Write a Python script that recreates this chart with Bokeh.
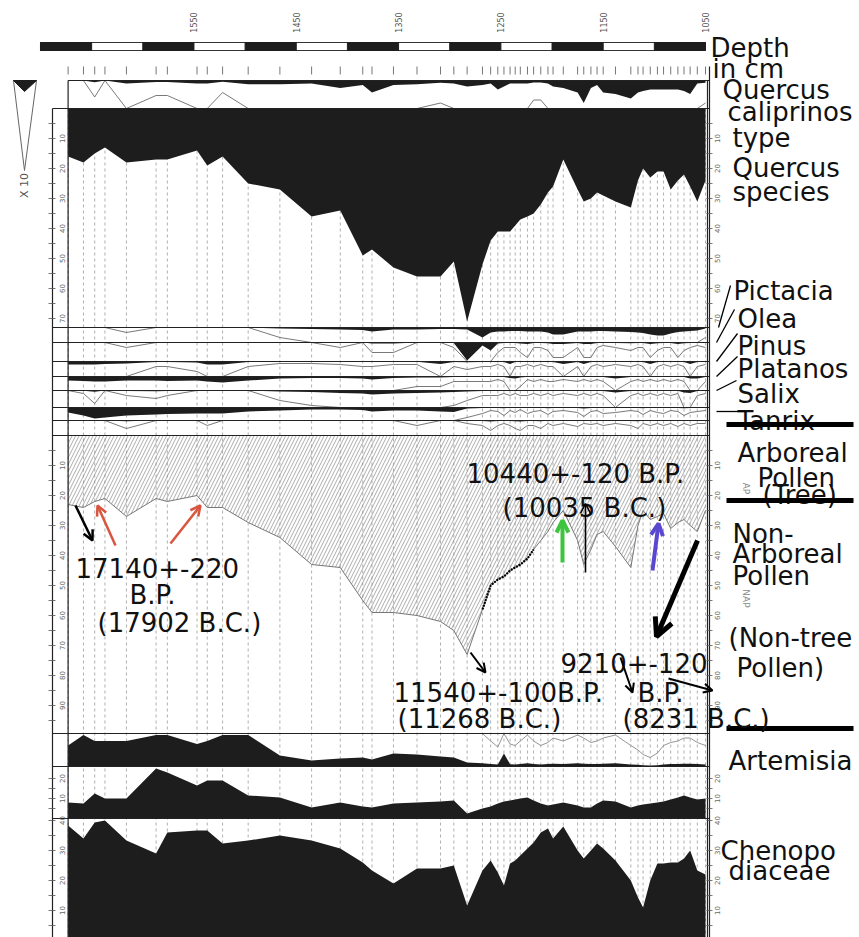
from math import pi
import numpy as np
from bokeh.plotting import figure
from bokeh.models import Range1d, Arrow, OpenHead
from bokeh.core.properties import value
from bokeh.embed import file_html
from bokeh.resources import INLINE

# ---------------- data ----------------
# sample depths (cm)
depth = [1673, 1658, 1647, 1637, 1616, 1587, 1576, 1547, 1537, 1522,
         1497, 1466, 1435, 1407, 1385, 1376, 1355, 1332, 1309, 1296,
         1283, 1268, 1260, 1253, 1247, 1241, 1236, 1231, 1224, 1218,
         1211, 1204, 1199, 1189, 1175, 1169, 1162, 1156, 1150, 1138,
         1123, 1116, 1111, 1104, 1097, 1091, 1084, 1077, 1071, 1065,
         1058, 1050]

depth_ticks = [1550, 1450, 1350, 1250, 1150, 1050]

# pollen percentages per sample
quercus_calliprinos = [0, 0, 1.1, 0, 2, 1.0, 1.0, 2, 2, 0.8,
                       2.5, 2.5, 2, 5, 3, 8, 3, 2.5, 1.5, 2,
                       4, 3, 2, 6, 4, 2, 2, 2, 2, 1.3,
                       1.3, 2, 4, 5, 8, 15, 5, 3, 8, 9,
                       12, 8, 7, 6, 6, 6, 6, 6, 7, 9,
                       2, 1.5]
quercus_species = [16, 18, 15, 13, 18, 17, 17, 14, 19, 16,
                   25, 27, 36, 34, 49, 47, 53, 56, 56, 51,
                   71, 52, 44, 41, 41, 41, 39, 37, 36, 35,
                   32, 28, 26, 17, 27, 31, 30, 28, 29, 31,
                   33, 24, 20, 23, 21, 21, 27, 24, 22, 26,
                   31, 24]
pictacia = [0, 0, 0, 0, 0.5, 0, 0, 0, 0, 0,
            0, 1, 1.5, 2, 2.5, 4, 2, 2, 1.5, 1.5,
            2, 10, 5, 4, 4, 3.5, 3.5, 3.5, 4, 4,
            4, 5, 7, 7, 4, 4, 4, 3.5, 3.5, 4,
            4.5, 5, 5.5, 7, 8, 8, 6, 4.5, 4, 3.5,
            3, 1]
olea = [0, 0, 0, 0, 0.5, 0, 0, 0, 0, 0,
        0, 0, 0, 0.5, 0, 1, 1, 0, 0, 0.5,
        18, 3, 8, 1, 0.5, 0.5, 0.5, 1, 1.5, 0.5,
        0.5, 0.8, 1.5, 1.5, 0.5, 1.5, 1.5, 0.5, 0.3, 0.5,
        0.8, 0.5, 0.5, 1.5, 0.8, 0.5, 0.5, 1.5, 0.8, 0.5,
        0.3, 0.5]
pinus = [3, 3, 3, 2.5, 2, 0.5, 0.5, 1, 3, 3,
         0.5, 0.2, 0.2, 0.3, 0.5, 0.5, 0.3, 0.3, 2.5, 0.5,
         0.8, 0.5, 0.5, 0.3, 0.5, 2.5, 0.5, 0.5, 0.3, 0.5,
         0.3, 0.5, 0.5, 2.5, 0.5, 2.5, 0.5, 0.3, 0.5, 0.3,
         0.5, 0.3, 0.5, 2.5, 0.5, 0.3, 0.5, 0.3, 0.5, 2.5,
         0.5, 0.3]
platanos = [4, 4.5, 5, 5, 4, 4, 4.5, 4, 5, 6,
            4, 2, 1.5, 1.5, 2, 3, 1.5, 1, 1, 0.5,
            0.5, 0.5, 0.5, 0.3, 0.5, 1.5, 2, 1, 0.3, 0.5,
            0.3, 0.5, 0.5, 0.3, 0.5, 0.3, 0.5, 0.3, 0.5, 2,
            0.5, 0.3, 0.5, 0.3, 0.5, 0.3, 0.5, 0.3, 0.5, 2,
            2, 0.5]
salix = [0, 0.3, 1.3, 0, 0.5, 0.8, 0.5, 0, 0, 0,
         0, 1, 1.5, 2.5, 3, 4, 3, 2.5, 2, 1.5,
         1, 0.5, 0.5, 0.5, 0.3, 0.5, 0.3, 0.5, 0.5, 0.3,
         0.5, 0.3, 0.5, 0.3, 0.5, 0.3, 0.5, 0.3, 0.5, 2,
         0.5, 0.3, 0.5, 0.3, 0.5, 0.3, 0.5, 0.3, 2, 2.5,
         0.5, 0.3]
tanrix = [5, 8, 11, 10, 8, 7, 6.5, 6, 6, 6,
          4, 3, 2, 2, 2.5, 4, 3, 3, 4, 4.5,
          1, 0.6, 0.3, 0.4, 0.8, 0.3, 0.5, 0.2, 0.6, 0.4,
          0.3, 0.7, 0.4, 0.3, 0.5, 0.9, 0.4, 0.3, 0.6, 0.5,
          0.3, 0.4, 0.7, 0.3, 0.5, 0.6, 0.3, 0.4, 0.8, 0.5,
          0.4, 0.3]
tanrix_2 = [0, 0, 0, 0, 0.8, 0, 0, 0, 0.5, 0,
            0, 0, 0, 0, 0, 0, 0, 0.5, 0, 0,
            0.3, 0.5, 1, 0.5, 0.3, 0.5, 0.8, 1, 0.5, 0.5,
            0.8, 0.3, 0.5, 0.3, 0.6, 0.3, 0.4, 0.3, 0.5, 0.3,
            0.5, 0.8, 0.3, 0.5, 0.3, 0.5, 0.3, 0.6, 0.3, 0.5,
            0.3, 0.3]
arboreal = [23, 24, 22, 21, 27, 21, 22, 20, 24, 24,
            29, 34, 43, 44, 55, 59, 59, 60, 62, 65,
            73, 58, 50, 48, 47, 45, 44, 43, 41, 38,
            35, 32, 29, 25, 35, 43, 38, 33, 32, 37,
            44, 30, 25, 28, 27, 26, 31, 29, 28, 30,
            32, 25]
artemisia = [14, 21, 17, 17, 17, 21, 21, 15, 17, 21,
             21, 7.3, 4, 5.3, 6, 4.7, 8.7, 8, 6.7, 6,
             2.7, 2.2, 1.7, 1.3, 8.7, 1.5, 1.4, 1.7, 2.1, 1.7,
             1.4, 1.6, 1.9, 1.7, 2.1, 1.9, 1.6, 1.7, 1.9, 2.1,
             1.4, 1.1, 0.8, 0.6, 0.9, 1.4, 1.6, 1.7, 1.9, 1.9,
             1.6, 1.4]
other_nap = [8, 7.5, 12.5, 10, 10, 25, 23, 16.5, 19, 19,
             11.5, 10.5, 5.5, 8, 6, 5.5, 7.5, 8, 8.5, 9,
             2.5, 5, 6, 7.5, 8.5, 9, 9.5, 10, 10.5, 9,
             7.5, 6.5, 7, 8, 6.5, 5.5, 5.5, 7.5, 9, 8.5,
             5.5, 6.5, 7, 7.5, 8, 8.5, 9.5, 10.5, 11.5, 10.5,
             9.5, 10]
chenopodiaceae = [38.3, 34, 39.3, 40, 33.3, 29, 36, 36.7, 36.7, 32.3,
                  33.3, 35, 33.3, 30.7, 26, 23.3, 19, 24, 24, 25,
                  11.7, 23.3, 26.7, 22.7, 18.3, 25.7, 26.7, 28.3, 30.7, 32.7,
                  36, 37.3, 34, 38, 30, 27.3, 30, 32.3, 30.7, 26.7,
                  20, 14.3, 11, 20, 25.7, 25.7, 26, 26, 27.3, 30,
                  23.3, 22]

# ---------------- layout ----------------
W, H = 859, 937
XS = 1.0231            # screen px per cm of depth
D_REF, PX_REF = 1050, 705


def depth_at(px):
    """depth (cm) that sits at a given screen column"""
    return D_REF + (PX_REF - px) / XS


d = np.array(depth, dtype=float)
n = len(d)
INK = "#1d1d1d"
GREY = "#6a6a6a"
FONT = "DejaVu Sans"

CAL_BASE, CAL_H, CAL_SC = 80, 28, 1.5
QS_TOP, QS_SC, QS_BOT = 108, 3.0, 325
STRIP_BASES = [327, 342, 361, 376, 390, 407, 420]
STRIP_END = 435
AP_TOP, AP_SC, AP_BOT = 435, 3.0, 733
ART_BASE, ART_TOP, ART_SC = 766, 733, 1.5
OTH_BASE, OTH_SC = 818, 2.0
CHE_BASE, CHE_SC = 940, 3.0

D_AXL, D_FRL, D_FRR, D_AXR = depth_at(52), depth[0], depth_at(707), depth_at(709)

p = figure(width=W, height=H, output_backend="svg", toolbar_location=None,
           x_range=Range1d(depth_at(0), depth_at(W)), y_range=Range1d(H, 0),
           x_axis_location=None, y_axis_location=None, min_border=0,
           background_fill_color="white", border_fill_color="white")
p.grid.visible = False
p.outline_line_color = None


def put(px, py, s, size="26px", color="#111111", align="left",
        baseline="alphabetic", angle=0.0):
    p.text(x=[depth_at(px)], y=[py], text=[s], text_font=value(FONT),
           text_font_size=size, text_color=color, text_align=align,
           text_baseline=baseline, angle=angle)


# dashed sample lines running through every panel
p.multi_line(xs=[[v, v] for v in depth], ys=[[QS_TOP, H] for _ in depth],
             line_color="#9a9a9a", line_width=0.8, line_dash="3 3")
# sample ticks under the depth bar
p.multi_line(xs=[[v, v] for v in depth], ys=[[66, 74] for _ in depth],
             line_color="#777777", line_width=1)

# depth bar (alternating 50 cm blocks)
p.quad(left=[1700], right=[1050], top=[42], bottom=[50],
       fill_color="white", line_color="#333333", line_width=1)
blk = [b for b in range(1700, 1050, -100)]
p.quad(left=blk, right=[b - 50 for b in blk], top=[42] * len(blk),
       bottom=[50] * len(blk), fill_color=INK, line_color=INK)
p.text(x=depth_ticks, y=[22] * len(depth_ticks),
       text=[str(t) for t in depth_ticks], text_font=value(FONT),
       text_font_size="8px", text_color="#555555", text_align="center",
       text_baseline="middle", angle=pi / 2)

# ---- Quercus calliprinos type (hanging from top line, x10 outline) ----
cal = np.array(quercus_calliprinos) * CAL_SC
p.varea(x=d, y1=np.full(n, CAL_BASE), y2=CAL_BASE + cal, fill_color=INK)
p.line(d, CAL_BASE + np.minimum(cal * 10, CAL_H), line_color=GREY, line_width=0.9)

# ---- Quercus species ----
qs = QS_TOP + QS_SC * np.array(quercus_species)
p.varea(x=d, y1=np.full(n, QS_TOP), y2=qs, fill_color=INK)

# ---- small arboreal taxa strips ----
strips = [pictacia, olea, pinus, platanos, salix, tanrix, tanrix_2]
ends = STRIP_BASES[1:] + [STRIP_END]
for base, end, vals in zip(STRIP_BASES, ends, strips):
    v = np.array(vals, dtype=float)
    p.varea(x=d, y1=np.full(n, base), y2=base + v, fill_color=INK)
    p.line(d, base + np.minimum(v * 10, end - base), line_color=GREY, line_width=0.9)

# ---- arboreal / non-arboreal pollen ----
ap = AP_TOP + AP_SC * np.array(arboreal)
p.varea(x=d, y1=np.full(n, AP_TOP), y2=ap, fill_alpha=0,
        hatch_pattern="/", hatch_color="#8c8c8c", hatch_scale=7,
        hatch_weight=0.8, hatch_alpha=0.9)
p.line(d, ap, line_color="#777777", line_width=1)
p.line(d[21:30], ap[21:30], line_color="black", line_width=2.2, line_dash="2 1")

# ---- Artemisia (rising from the base, x10 outline) ----
art = np.array(artemisia) * ART_SC
p.varea(x=d, y1=np.full(n, ART_BASE), y2=ART_BASE - art, fill_color=INK)
p.line(d, ART_BASE - np.minimum(art * 10, ART_BASE - ART_TOP),
       line_color="#8a8a8a", line_width=0.9)

# ---- other herbs ----
oth = OTH_BASE - OTH_SC * np.array(other_nap)
p.varea(x=d, y1=np.full(n, OTH_BASE), y2=oth, fill_color=INK)

# ---- Chenopodiaceae ----
che = CHE_BASE - CHE_SC * np.array(chenopodiaceae)
p.varea(x=d, y1=np.full(n, CHE_BASE), y2=che, fill_color=INK)

# ---- panel frame lines ----
hl = [CAL_BASE, QS_TOP] + STRIP_BASES + [STRIP_END, AP_BOT, ART_BASE, OTH_BASE]
p.multi_line(xs=[[D_FRL if y == CAL_BASE else D_AXL, D_AXR] for y in hl],
             ys=[[y, y] for y in hl], line_color="#222222", line_width=1.2)
p.multi_line(xs=[[D_FRL, D_FRL], [D_FRR, D_FRR], [D_AXL, D_AXL], [D_AXR, D_AXR]],
             ys=[[CAL_BASE, H], [CAL_BASE, H], [QS_TOP, H], [66, H]],
             line_color="#222222", line_width=1.2)

# axis ticks (left and right scale bars)
tick_sets = [(QS_TOP, QS_SC, 70, 1), (AP_TOP, AP_SC, 95, 1),
             (CHE_BASE, CHE_SC, 40, -1), (OTH_BASE, OTH_SC, 20, -1)]
for base, sc, top, sgn in tick_sets:
    vals = list(range(5, top + 1, 5))
    ys = [base + sgn * sc * v for v in vals]
    p.multi_line(xs=[[depth_at(48), depth_at(55)] for _ in ys], ys=[[y, y] for y in ys],
                 line_color="#555555", line_width=0.8)
    p.multi_line(xs=[[depth_at(706), depth_at(712)] for _ in ys], ys=[[y, y] for y in ys],
                 line_color="#555555", line_width=0.8)
    lab = [v for v in vals if v % 10 == 0]
    ly = [base + sgn * sc * v for v in lab]
    for px in (61, 716):
        p.text(x=[depth_at(px)] * len(lab), y=ly, text=[str(v) for v in lab],
               text_font=value(FONT), text_font_size="7px", text_color="#666666",
               text_align="center", text_baseline="middle", angle=pi / 2)

# exaggeration key
p.patch(x=[depth_at(13), depth_at(36), depth_at(24)], y=[80, 80, 170],
        fill_color=None, line_color="#666666", line_width=1)
p.patch(x=[depth_at(13), depth_at(36), depth_at(24)], y=[80, 80, 91],
        fill_color=INK, line_color=INK)
put(24, 185, "X 10", size="11px", color="#555555", align="center",
    baseline="middle", angle=pi / 2)

# ---- right-hand taxon labels ----
right_labels = [
    (710, 47, "Depth"), (712, 68, "in cm"),
    (722, 89, "Quercus"), (727, 111, "caliprinos"), (732, 137, "type"),
    (732, 167, "Quercus"), (732, 191, "species"),
    (733, 290, "Pictacia"), (737, 318, "Olea"), (737, 345, "Pinus"),
    (737, 368, "Platanos"), (737, 393, "Salix"), (737, 420, "Tanrix"),
    (737, 452, "Arboreal"), (757, 477, "Pollen"), (762, 494, "(Tree)"),
    (732, 533, "Non-"), (732, 553, "Arboreal"), (732, 575, "Pollen"),
    (728, 637, "(Non-tree"), (736, 667, "Pollen)"),
    (728, 760, "Artemisia"), (720, 850, "Chenopo"), (728, 870, "diaceae"),
]
for px, py, s in right_labels:
    put(px, py, s)
put(745, 488, "AP", size="9px", color="#888888", align="center", baseline="middle", angle=-pi / 2)
put(745, 598, "NAP", size="9px", color="#888888", align="center", baseline="middle", angle=-pi / 2)

# connectors from the strip labels to their strips
conn = [((730, 285), (718, 327)), ((734, 309), (716, 342)), ((737, 333), (716, 361)),
        ((737, 356), (716, 376)), ((736, 380), (716, 390)), ((716, 411), (745, 411))]
p.multi_line(xs=[[depth_at(a[0]), depth_at(b[0])] for a, b in conn],
             ys=[[a[1], b[1]] for a, b in conn], line_color="black", line_width=1.3)

# heavy separators in the label column
for yy in (424, 500, 728):
    p.segment(x0=[depth_at(726)], x1=[depth_at(853)], y0=[yy], y1=[yy],
              line_color="black", line_width=5)

# ---- radiocarbon annotations ----
put(75, 567, "17140+-220")
put(152, 594, "B.P.", align="center")
put(97, 622, "(17902 B.C.)")
put(466, 473, "10440+-120 B.P.")
put(502, 507, "(10035 B.C.)")
put(393, 692, "11540+-100B.P.")
put(397, 718, "(11268 B.C.)")
put(560, 662, "9210+-120")
put(637, 692, "B.P.")
put(622, 718, "(8231 B.C.)")

arrows = [
    ((75, 505), (92, 540), "black", 2.5, 10),
    ((115, 545), (97, 505), "#d9553f", 2.5, 10),
    ((170, 543), (200, 505), "#d9553f", 2.5, 10),
    ((562, 562), (562, 520), "#3ec43e", 4, 12),
    ((585, 572), (585, 503), "black", 1.6, 10),
    ((652, 570), (658, 523), "#5a48d0", 4, 12),
    ((697, 540), (656, 636), "black", 5, 18),
    ((470, 652), (485, 672), "black", 2, 9),
    ((620, 657), (632, 692), "black", 2, 9),
    ((668, 678), (712, 690), "black", 2, 9),
]
for (x0, y0), (x1, y1), c, w, s in arrows:
    p.add_layout(Arrow(end=OpenHead(size=s, line_color=c, line_width=w),
                       x_start=depth_at(x0), y_start=y0,
                       x_end=depth_at(x1), y_end=y1,
                       line_color=c, line_width=w))

open("out.html", "w").write(file_html(p, INLINE))
